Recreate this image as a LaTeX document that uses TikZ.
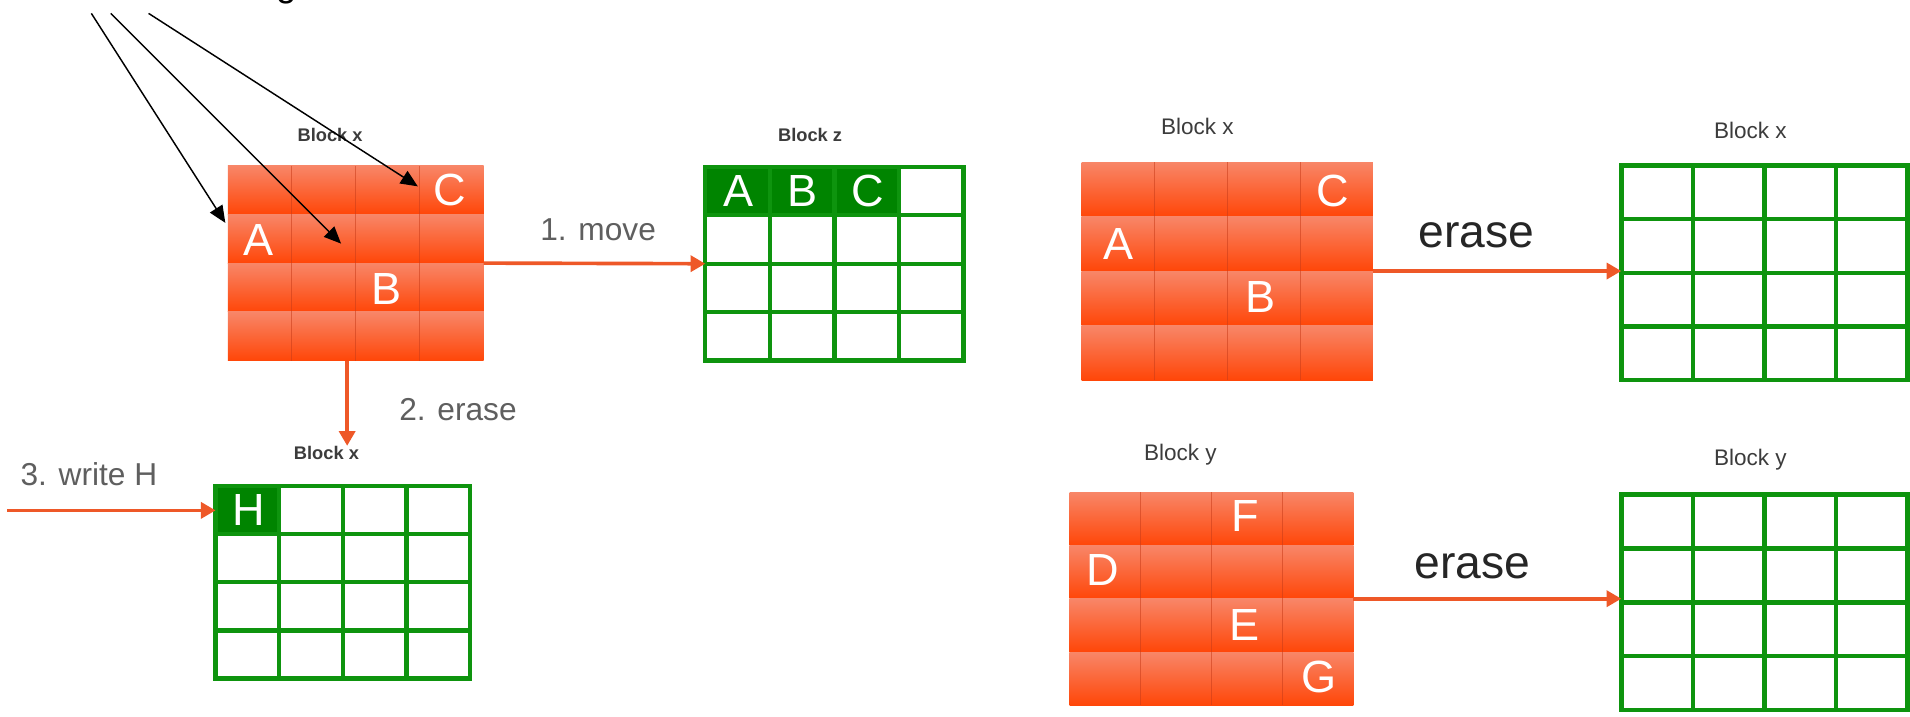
\documentclass[tikz,border=0pt]{standalone}
\usepackage{fontspec}
\setmainfont{Liberation Sans}
\usetikzlibrary{arrows.meta}
\definecolor{oarr}{RGB}{238,88,40}
\definecolor{otop}{RGB}{248,134,104}
\definecolor{omid}{RGB}{252,104,60}
\definecolor{obot}{RGB}{255,70,8}
\definecolor{ocol}{RGB}{200,60,25}
\definecolor{gline}{RGB}{14,148,14}
\definecolor{gfill}{RGB}{0,132,0}
\definecolor{lblgray}{RGB}{60,60,60}
\definecolor{stepgray}{RGB}{95,95,95}
\tikzset{
  oarrow/.style={draw=oarr, line width=3pt, -{Triangle[length=12pt,width=13pt]}},
  barrow/.style={draw=black, line width=1.2pt, -{Triangle[length=14pt,width=12pt]}},
  letter/.style={text=white, font=\fontsize{37}{40}\selectfont, inner sep=0},
  blabel/.style={text=lblgray, font=\bfseries\fontsize{15}{18}\selectfont, inner sep=0},
  rlabel/.style={text=lblgray, font=\fontsize{18.5}{22}\selectfont, inner sep=0},
  steplabel/.style={text=stepgray, font=\fontsize{26}{30}\selectfont, inner sep=0},
  eraselabel/.style={text=black!85, font=\fontsize{38}{42}\selectfont, inner sep=0},
  blockbox/.style={inner sep=0, outer sep=0, draw=none},
  gridline/.style={draw=gline, line width=3.6pt},
  colline/.style={draw=ocol, line width=0.9pt, opacity=0.55},
}
\newcommand\orangeblk[5]{%
  \node[blockbox, minimum width={#4pt-#2pt}, minimum height={#5pt-#3pt}] (#1) at ({(#2+#4)/2},{(#3+#5)/2}) {};
  \foreach \i in {0,1,2,3}{%
    \pgfmathsetmacro\ya{#3+\i*(#5-#3)/4}%
    \pgfmathsetmacro\yb{#3+(\i+1)*(#5-#3)/4}%
    \shade[top color=otop, middle color=omid, bottom color=obot] (#2,\ya) rectangle (#4,\yb);
  }
  \foreach \i in {1,2,3}{%
    \pgfmathsetmacro\xa{#2+\i*(#4-#2)/4}%
    \draw[colline] (\xa,#3) -- (\xa,#5);
  }
}
\newcommand\greengrid[5]{%
  \node[blockbox, minimum width={#4pt-#2pt}, minimum height={#5pt-#3pt}] (#1) at ({(#2+#4)/2},{(#3+#5)/2}) {};
  \foreach \i in {1,2,3}{%
    \pgfmathsetmacro\xa{#2+\i*(#4-#2)/4}%
    \pgfmathsetmacro\ya{#3+\i*(#5-#3)/4}%
    \draw[gridline] (\xa,#3) -- (\xa,#5);
    \draw[gridline] (#2,\ya) -- (#4,\ya);
  }
  \draw[gridline] (#2,#3) rectangle (#4,#5);
}
\begin{document}
\begin{tikzpicture}[x=1pt,y=-1pt]
\useasboundingbox (0,0) rectangle (1568,588);
\fill[white] (0,0) rectangle (1568,588);

% cut-off text at top
\node[anchor=base, inner sep=0, font=\fontsize{30}{34}\selectfont] (topg) at (235,-3) {g};

% ---- top-left: Block x (orange)
\node[blabel] (lbx1) at (271,111) {Block x};
\orangeblk{bx1}{187}{136}{397}{296}
\node[letter] (lc1) at (369,156) {C};
\node[letter] (la1) at (212,197) {A};
\node[letter] (lb1) at (317,237) {B};

% black arrows
\coordinate (s1) at (75,11);
\coordinate (s2) at (91,11);
\coordinate (s3) at (122,11);
\coordinate (t1) at (185,183);
\coordinate (t2) at (280,200);
\coordinate (t3) at (343,153);
\draw[barrow] (s1) -- (t1);
\draw[barrow] (s2) -- (t2);
\draw[barrow] (s3) -- (t3);

% ---- Block z (green)
\node[blabel] (lbz) at (665,111) {Block z};
\fill[gfill] (579,137) rectangle (738,177);
\greengrid{bz}{579}{137}{791}{296}
\node[letter] (za) at (606,157) {A};
\node[letter] (zb) at (659,157) {B};
\node[letter] (zc) at (712,157) {C};

\draw[oarrow] (bx1.east) -- (bz.west);
\node[steplabel] (mv) at (491,189) {1. move};

% ---- bottom-left: Block x (green)
\node[blabel] (lbx2) at (268,372) {Block x};
\fill[gfill] (177,399) rectangle (230,438);
\greengrid{bx2}{177}{399}{386}{557}
\node[letter] (lh) at (204,419) {H};
\coordinate (t4) at (285,366);
\draw[oarrow] (t4 |- bx1.south) -- (t4);
\node[steplabel] (er2) at (376,336) {2. erase};

\coordinate (s5) at (6,419);
\draw[oarrow] (s5) -- (s5 -| bx2.west);
\node[steplabel] (wr) at (73,389) {3. write H};

% ---- right top
\node[rlabel] (rlx1) at (983,104) {Block x};
\orangeblk{rx1}{888}{133}{1127}{312}
\node[letter] (rc) at (1094,157) {C};
\node[letter] (ra) at (918,200) {A};
\node[letter] (rb) at (1035,244) {B};

\node[rlabel] (rlx2) at (1437,107) {Block x};
\greengrid{gx1}{1331}{136}{1566}{312}
\draw[oarrow] (rx1.east) -- (rx1.east -| gx1.west);
\node[eraselabel] (e1) at (1212,193) {erase};

% ---- right bottom
\node[rlabel] (rly1) at (969,373) {Block y};
\orangeblk{ry1}{878}{404}{1111}{579}
\node[letter] (rf) at (1022,424) {F};
\node[letter] (rd) at (905,468) {D};
\node[letter] (re) at (1022,513) {E};
\node[letter] (rg) at (1083,556) {G};

\node[rlabel] (rly2) at (1437,377) {Block y};
\greengrid{gy1}{1331}{406}{1566}{583}
\draw[oarrow] (ry1.east) -- (ry1.east -| gy1.west);
\node[eraselabel] (e2) at (1209,465) {erase};
\end{tikzpicture}
\end{document}
